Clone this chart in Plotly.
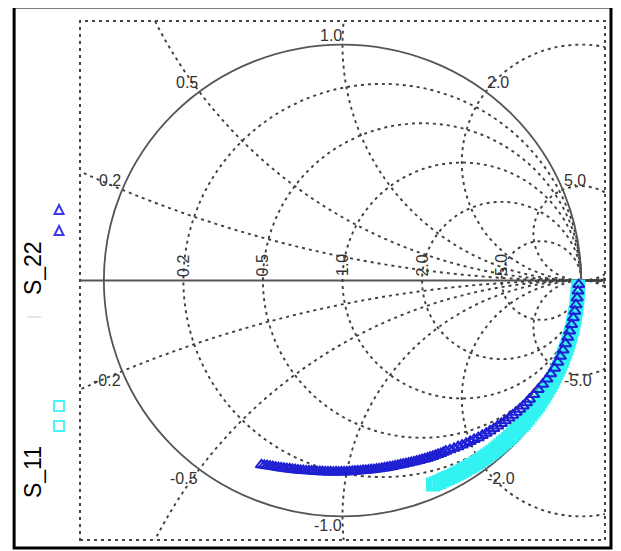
import numpy as np
import plotly.graph_objects as go

# ---------------- data ----------------
# S11 : magnitude and phase (deg)
s11_phase = [-1.5, -2.3, -3.1, -4.0, -4.8, -5.6, -6.4, -7.2, -8.1, -8.9,
             -9.7, -10.5, -11.3, -12.2, -13.0, -13.8, -14.6, -15.4, -16.3, -17.1,
             -17.9, -18.7, -19.5, -20.4, -21.2, -22.0, -22.8, -23.6, -24.5, -25.3,
             -26.1, -26.9, -27.7, -28.6, -29.4, -30.2, -31.0, -31.8, -32.7, -33.5,
             -34.3, -35.1, -35.9, -36.8, -37.6, -38.4, -39.2, -40.0, -40.9, -41.7,
             -42.5, -43.3, -44.1, -45.0, -45.8, -46.6, -47.4, -48.2, -49.1, -49.9,
             -50.7, -51.5, -52.3, -53.2, -54.0, -54.8, -55.6, -56.4, -57.3, -58.1,
             -58.9, -59.7, -60.5, -61.4, -62.2, -63.0, -63.8, -64.6, -65.5, -66.3]
s11_mag = [0.988, 0.988, 0.987, 0.987, 0.987, 0.986, 0.986, 0.986, 0.985, 0.985,
           0.985, 0.984, 0.984, 0.984, 0.983, 0.983, 0.982, 0.982, 0.982, 0.981,
           0.981, 0.980, 0.980, 0.980, 0.979, 0.979, 0.978, 0.978, 0.978, 0.977,
           0.977, 0.976, 0.976, 0.976, 0.975, 0.975, 0.974, 0.974, 0.974, 0.973,
           0.973, 0.972, 0.971, 0.971, 0.970, 0.970, 0.969, 0.968, 0.968, 0.967,
           0.966, 0.965, 0.965, 0.964, 0.963, 0.962, 0.961, 0.961, 0.960, 0.959,
           0.958, 0.957, 0.956, 0.955, 0.955, 0.954, 0.953, 0.952, 0.951, 0.950,
           0.950, 0.949, 0.948, 0.947, 0.947, 0.946, 0.945, 0.945, 0.944, 0.944]

# S22 : magnitude and phase (deg)
s22_phase = [-1.0, -2.6, -4.3, -6.0, -7.6, -9.3, -11.0, -12.7, -14.3, -16.0,
             -17.7, -19.4, -21.0, -22.7, -24.4, -26.0, -27.7, -29.4, -31.1, -32.7,
             -33.9, -35.1, -36.3, -37.5, -38.7, -39.9, -41.1, -42.3, -43.5, -44.7,
             -45.9, -47.1, -48.3, -49.5, -50.7, -51.9, -53.1, -54.3, -55.5, -56.7,
             -57.9, -59.1,
             -59.9, -60.7, -61.5, -62.3, -63.1, -63.9, -64.7, -65.5, -66.3, -67.1,
             -67.9, -68.7, -69.5, -70.3, -71.1, -71.9, -72.7, -73.5, -74.3, -75.1,
             -75.9, -76.7, -77.5, -78.3, -79.1, -79.9, -80.7, -81.5, -82.3, -83.1,
             -83.9, -84.7, -85.5, -86.3, -87.1, -87.9, -88.7, -89.5, -90.3, -91.1,
             -91.9, -92.7, -93.5, -94.3, -95.1, -95.9, -96.7, -97.5, -98.3, -99.1,
             -99.9, -100.7, -101.5, -102.3, -103.1, -103.9, -104.7, -105.5, -106.3, -107.1,
             -107.9, -108.7, -109.5, -110.3, -111.1, -111.9, -112.7, -113.5]
s22_mag = [0.990, 0.988, 0.986, 0.984, 0.982, 0.980, 0.978, 0.976, 0.974, 0.972,
           0.970, 0.968, 0.966, 0.963, 0.958, 0.953, 0.947, 0.941, 0.936, 0.931,
           0.929, 0.925, 0.921, 0.917, 0.913, 0.909, 0.905, 0.900, 0.896, 0.892,
           0.888, 0.884, 0.880, 0.876, 0.871, 0.867, 0.863, 0.859, 0.855, 0.851,
           0.847, 0.843,
           0.842, 0.841, 0.839, 0.837, 0.836, 0.834, 0.833, 0.831, 0.829, 0.828,
           0.826, 0.825, 0.823, 0.822, 0.820, 0.819, 0.818, 0.817, 0.816, 0.816,
           0.815, 0.814, 0.814, 0.813, 0.813, 0.812, 0.812, 0.811, 0.811, 0.811,
           0.810, 0.810, 0.810, 0.810, 0.810, 0.811, 0.811, 0.811, 0.811, 0.812,
           0.812, 0.813, 0.813, 0.814, 0.814, 0.815, 0.816, 0.817, 0.817, 0.818,
           0.819, 0.821, 0.822, 0.824, 0.825, 0.826, 0.828, 0.829, 0.831, 0.833,
           0.835, 0.837, 0.839, 0.841, 0.843, 0.846, 0.849, 0.852]

# Smith chart grid values
r_values = [0.2, 0.5, 1.0, 2.0, 5.0]
x_values = [0.2, 0.5, 1.0, 2.0, 5.0]
r_labels = ["0.2", "0.5", "1.0", "2.0", "5.0"]
x_labels = ["0.2", "0.5", "1.0", "2.0", "5.0"]
legend_names = ["S_11", "S_22"]

# ---------------- figure ----------------
def to_gamma(mag, ph):
    g = np.array(mag) * np.exp(1j * np.deg2rad(np.array(ph)))
    return g.real, g.imag

FONT = "Liberation Sans, Arial, sans-serif"
GRID = "#404040"
DASH = "3px,4px"

fig = go.Figure()
g11x, g11y = to_gamma(s11_mag, s11_phase)
g22x, g22y = to_gamma(s22_mag, s22_phase)
fig.add_trace(go.Scatter(x=g11x, y=g11y, mode="markers", name="S_11",
                         marker=dict(symbol="square-open", size=11, color="#33f2f2",
                                     line=dict(width=3, color="#33f2f2")),
                         showlegend=False, cliponaxis=False))
fig.add_trace(go.Scatter(x=g22x, y=g22y, mode="markers", name="S_22",
                         marker=dict(symbol="triangle-up-open", size=10, color="#1f1fd2",
                                     line=dict(width=2, color="#1f1fd2")),
                         showlegend=False, cliponaxis=False))

shapes = []
# resistance circles
for r in r_values:
    c = r / (1 + r); rad = 1 / (1 + r)
    shapes.append(dict(type="circle", xref="x", yref="y", x0=c - rad, x1=c + rad,
                       y0=-rad, y1=rad, line=dict(color=GRID, width=1.9, dash=DASH),
                       layer="below"))
# reactance circles (full circles, clipped by the plot area)
for xv in x_values:
    for s in (1, -1):
        cy = s / xv; rad = 1 / xv
        shapes.append(dict(type="circle", xref="x", yref="y", x0=1 - rad, x1=1 + rad,
                           y0=cy - rad, y1=cy + rad,
                           line=dict(color=GRID, width=1.9, dash=DASH), layer="below"))
# unit circle
shapes.append(dict(type="circle", xref="x", yref="y", x0=-1, x1=1, y0=-1, y1=1,
                   line=dict(color="#555555", width=1.8), layer="below"))
# real axis
shapes.append(dict(type="line", xref="paper", yref="y", x0=0, x1=1, y0=0, y1=0,
                   line=dict(color="#555555", width=2.2), layer="below"))
# dotted plot frame
shapes.append(dict(type="rect", xref="paper", yref="paper", x0=0, x1=1, y0=0, y1=1,
                   line=dict(color="#444444", width=2, dash="3px,4px"), layer="below"))
# outer black frame
shapes.append(dict(type="rect", xref="paper", yref="paper", x0=-0.1255, x1=1.0114,
                   y0=-0.0154, y1=1.0270, line=dict(color="black", width=3)))

# legend symbols (page pixel -> paper)
W, H = 526.0, 519.0
def px(xp):
    return (xp - 80) / W
def py(yp):
    return (540 - yp) / H
for yy in (210, 231):
    shapes.append(dict(type="path", xref="paper", yref="paper", xsizemode="pixel",
                       ysizemode="pixel", xanchor=px(59), yanchor=py(yy),
                       path="M -4.5,-4 L 4.5,-4 L 0,5 Z",
                       line=dict(color="#3a3ae6", width=2)))
for yy in (406, 426):
    shapes.append(dict(type="rect", xref="paper", yref="paper", xsizemode="pixel",
                       ysizemode="pixel", xanchor=px(59), yanchor=py(yy),
                       x0=-5, x1=5, y0=-5, y1=5,
                       line=dict(color="#4af5f5", width=2)))
shapes.append(dict(type="line", xref="paper", yref="paper", x0=px(27), x1=px(41),
                   y0=py(317), y1=py(317), line=dict(color="#c8c8c8", width=1)))

annotations = []
# reactance labels at the unit-circle intersections
for xv, lab in zip(x_values, x_labels):
    for s in (1, -1):
        g = (1j * s * xv - 1) / (1j * s * xv + 1)
        annotations.append(dict(x=g.real, y=g.imag, xref="x", yref="y",
                                text=("-" + lab) if s < 0 else lab, showarrow=False,
                                xanchor="right" if xv <= 1 else "left",
                                yanchor="bottom" if s > 0 else "top",
                                font=dict(family=FONT, size=16, color="#333333"),
                                borderpad=0))
# resistance labels along the real axis
for r, lab in zip(r_values, r_labels):
    annotations.append(dict(x=(r - 1) / (r + 1), y=0, xref="x", yref="y", text=lab,
                            showarrow=False, textangle=-90, xanchor="center",
                            yanchor="bottom", yshift=3,
                            font=dict(family=FONT, size=16, color="#333333"),
                            borderpad=0))
# legend labels
for name, yy in zip(legend_names, (472, 268)):
    annotations.append(dict(x=px(33), y=py(yy), xref="paper", yref="paper", text=name,
                            showarrow=False, textangle=-90, xanchor="center",
                            yanchor="middle", font=dict(family=FONT, size=23, color="black")))

# the page body has an 8px margin: the figure is drawn 8px in and 8px down
fig.update_layout(
    width=613, height=543,
    margin=dict(l=72, r=16, t=13, b=11),
    paper_bgcolor="white", plot_bgcolor="white",
    xaxis=dict(range=[-1.1, 1.1], visible=False, fixedrange=True),
    yaxis=dict(range=[-1.1, 1.1], visible=False, fixedrange=True),
    shapes=shapes, annotations=annotations, showlegend=False,
)
fig.write_html("out.html")
